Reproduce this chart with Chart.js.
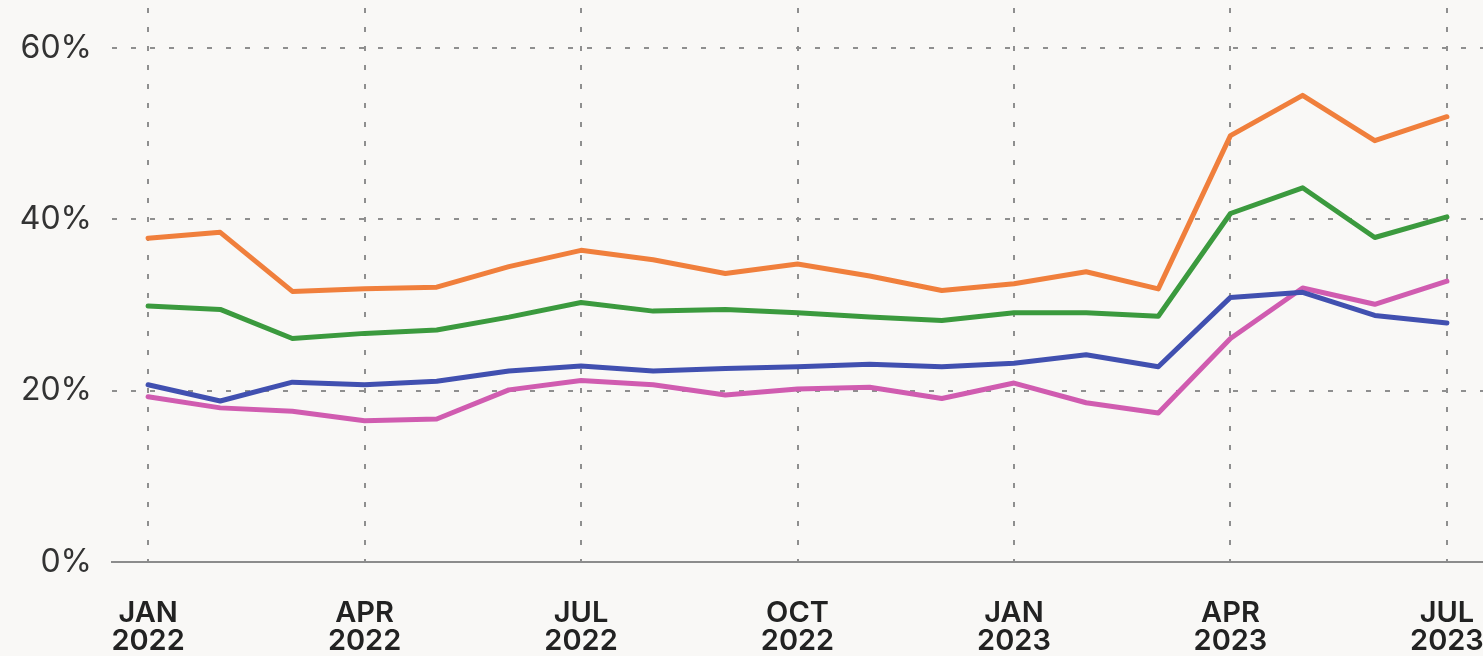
<!DOCTYPE html>
<html>
<head>
<meta charset="utf-8">
<script src="https://cdn.jsdelivr.net/npm/chart.js@4"></script>
<style>
  html, body { margin: 0; padding: 0; background: #f9f8f6; }
  #wrap { width: 1483px; height: 656px; }
</style>
</head>
<body>
<div id="wrap"><canvas id="trendChart"></canvas></div>
<script>
// Data for the chart
const months = ['JAN 2022', 'FEB 2022', 'MAR 2022', 'APR 2022', 'MAY 2022', 'JUN 2022',
    'JUL 2022', 'AUG 2022', 'SEP 2022', 'OCT 2022', 'NOV 2022', 'DEC 2022',
    'JAN 2023', 'FEB 2023', 'MAR 2023', 'APR 2023', 'MAY 2023', 'JUN 2023', 'JUL 2023'];
const orangeValues = [37.8, 38.5, 31.6, 31.9, 32.1, 34.5, 36.4, 35.3, 33.7, 34.8, 33.4, 31.7, 32.5, 33.9, 31.9, 49.8, 54.5, 49.2, 52.0];
const greenValues = [29.9, 29.5, 26.1, 26.7, 27.1, 28.6, 30.3, 29.3, 29.5, 29.1, 28.6, 28.2, 29.1, 29.1, 28.7, 40.7, 43.7, 37.9, 40.3];
const blueValues = [20.7, 18.8, 21.0, 20.7, 21.1, 22.3, 22.9, 22.3, 22.6, 22.8, 23.1, 22.8, 23.2, 24.2, 22.8, 30.9, 31.5, 28.8, 27.9];
const pinkValues = [19.3, 18.0, 17.6, 16.5, 16.7, 20.1, 21.2, 20.7, 19.5, 20.2, 20.4, 19.1, 20.9, 18.6, 17.4, 26.1, 32.0, 30.1, 32.8];
const yTicks = [0, 20, 40, 60];

const gridGray = '#8f8f8f';

function line(label, values, color) {
    return {
        label: label,
        data: values,
        borderColor: color,
        backgroundColor: color,
        borderWidth: 5,
        pointRadius: 0,
        tension: 0,
        borderJoinStyle: 'round',
        borderCapStyle: 'round'
    };
}

const config = {
    type: 'line',
    data: {
        labels: months,
        datasets: [
            line('Orange', orangeValues, '#f07f3c'),
            line('Green', greenValues, '#3b9a3e'),
            line('Blue', blueValues, '#4150b0'),
            line('Pink', pinkValues, '#d05cb0')
        ]
    },
    options: {
        responsive: true,
        maintainAspectRatio: false,
        animation: false,
        layout: { padding: { top: 8, right: 0, left: 0, bottom: 0 } },
        plugins: { legend: { display: false }, tooltip: { enabled: false } },
        scales: {
            x: {
                offset: true,
                grid: {
                    offset: false,
                    drawTicks: false,
                    lineWidth: 2,
                    color: ctx => (ctx.index % 3 === 0 ? gridGray : 'rgba(0,0,0,0)')
                },
                border: { display: true, color: '#8c8c8c', width: 2, dash: [5, 14] },
                ticks: {
                    autoSkip: false,
                    maxRotation: 0,
                    padding: 37,
                    color: '#222',
                    font: { family: 'Inter', size: 29, weight: '600', lineHeight: 0.97 },
                    callback: function (value, index) {
                        return index % 3 === 0 ? months[index].split(' ') : '';
                    }
                },
                afterFit: scale => {
                    scale.height = 94;
                    scale.paddingLeft = 0;
                    scale.paddingRight = 0;
                }
            },
            y: {
                min: 0,
                max: 64.7,
                afterBuildTicks: scale => { scale.ticks = yTicks.map(v => ({ value: v })); },
                grid: {
                    drawTicks: false,
                    lineWidth: 2,
                    color: ctx => (ctx.tick && ctx.tick.value === 0 ? 'rgba(0,0,0,0)' : gridGray)
                },
                border: { display: false, dash: [5, 14] },
                ticks: {
                    padding: 20,
                    color: '#333',
                    font: { family: 'Inter', size: 32, weight: '400' },
                    callback: v => v + '%'
                },
                afterFit: scale => {
                    scale.width = 112;
                    scale.paddingTop = 0;
                    scale.paddingBottom = 0;
                }
            }
        }
    }
};

window.onload = function () {
    const ctx = document.getElementById('trendChart').getContext('2d');
    new Chart(ctx, config);
};
</script>
</body>
</html>
